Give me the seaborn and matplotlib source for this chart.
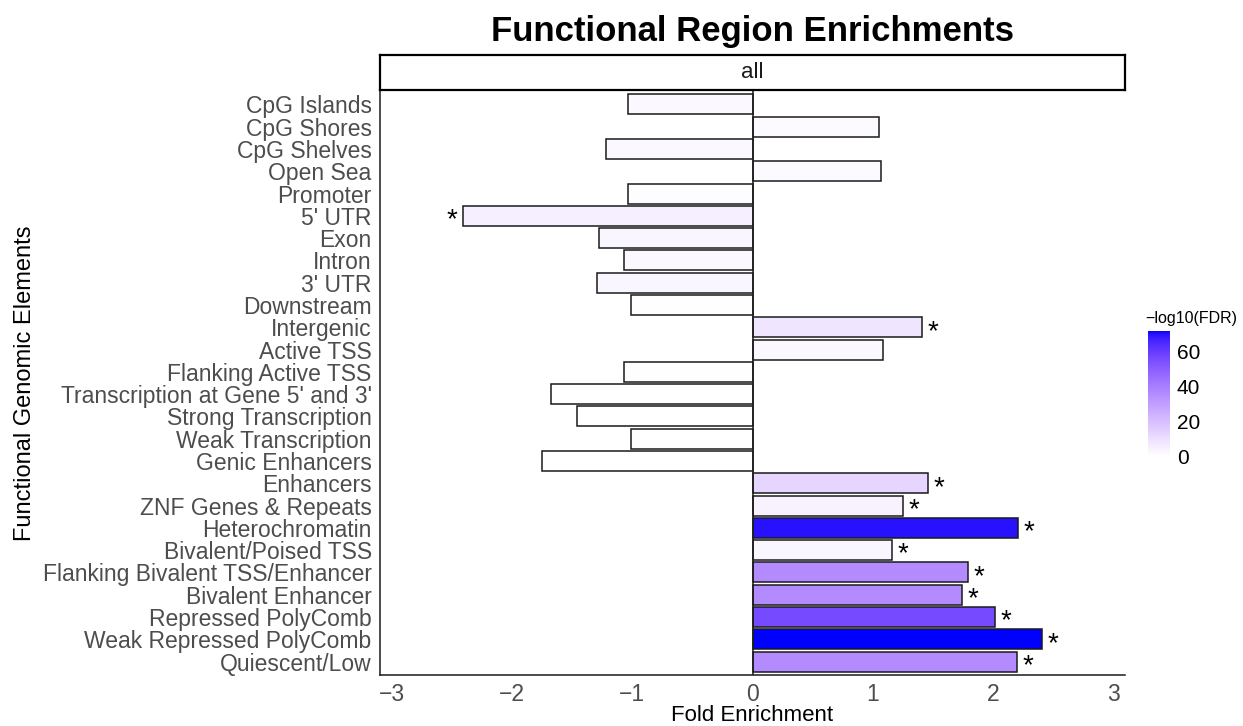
import numpy as np
import pandas as pd
import matplotlib
matplotlib.use('Agg')
import matplotlib.pyplot as plt
import seaborn as sns
from matplotlib.colors import ListedColormap, Normalize
from matplotlib.cm import ScalarMappable

# Data
elements = [
    "CpG Islands", "CpG Shores", "CpG Shelves", "Open Sea", "Promoter",
    "5' UTR", "Exon", "Intron", "3' UTR", "Downstream", "Intergenic",
    "Active TSS", "Flanking Active TSS", "Transcription at Gene 5' and 3'",
    "Strong Transcription", "Weak Transcription", "Genic Enhancers",
    "Enhancers", "ZNF Genes & Repeats", "Heterochromatin",
    "Bivalent/Poised TSS", "Flanking Bivalent TSS/Enhancer",
    "Bivalent Enhancer", "Repressed PolyComb", "Weak Repressed PolyComb",
    "Quiescent/Low",
]
fold_enrichment = [-1.04, 1.05, -1.22, 1.07, -1.04, -2.41, -1.28, -1.07, -1.29,
                   -1.01, 1.41, 1.09, -1.07, -1.68, -1.46, -1.01, -1.75,
                   1.46, 1.25, 2.21, 1.16, 1.79, 1.74, 2.02, 2.41, 2.20]
neg_log10_fdr = [2, 1.5, 2, 1.5, 1, 5, 3, 2, 3, 0.5, 8, 2, 0.3, 0.2, 0.2, 0.2,
                 0.2, 13, 4, 70, 3, 36, 36, 56, 72, 36]
significant = [False, False, False, False, False, True, False, False, False,
               False, True, False, False, False, False, False, False,
               True, True, True, True, True, True, True, True, True]


# white -> blue gradient interpolated in CIELAB (like ggplot's scale_fill_gradient)
def srgb_to_lab(rgb):
    rgb = np.asarray(rgb, float)
    lin = np.where(rgb <= 0.04045, rgb / 12.92, ((rgb + 0.055) / 1.055) ** 2.4)
    m = np.array([[0.4124, 0.3576, 0.1805],
                  [0.2126, 0.7152, 0.0722],
                  [0.0193, 0.1192, 0.9505]])
    xyz = m @ lin / np.array([0.95047, 1.0, 1.08883])
    f = np.where(xyz > 0.008856, np.cbrt(xyz), 7.787 * xyz + 16 / 116)
    return np.array([116 * f[1] - 16, 500 * (f[0] - f[1]), 200 * (f[1] - f[2])])


def lab_to_srgb(lab):
    L, a, b = lab
    fy = (L + 16) / 116
    fx = fy + a / 500
    fz = fy - b / 200
    f = np.array([fx, fy, fz])
    xyz = np.where(f ** 3 > 0.008856, f ** 3, (f - 16 / 116) / 7.787)
    xyz = xyz * np.array([0.95047, 1.0, 1.08883])
    minv = np.array([[3.2406, -1.5372, -0.4986],
                     [-0.9689, 1.8758, 0.0415],
                     [0.0557, -0.2040, 1.0570]])
    lin = minv @ xyz
    lin = np.clip(lin, 0, 1)
    rgb = np.where(lin <= 0.0031308, 12.92 * lin, 1.055 * lin ** (1 / 2.4) - 0.055)
    return np.clip(rgb, 0, 1)


lab_lo = srgb_to_lab([1, 1, 1])
lab_hi = srgb_to_lab([0, 0, 1])
ramp = [lab_to_srgb(lab_lo + t * (lab_hi - lab_lo)) for t in np.linspace(0, 1, 256)]
cmap = ListedColormap(ramp)
norm = Normalize(vmin=0, vmax=72)

df = pd.DataFrame({"element": elements, "fold": fold_enrichment,
                   "fdr": neg_log10_fdr, "sig": significant})
bar_colors = [cmap(norm(v)) for v in df["fdr"]]

sns.set_style("white")
plt.rcParams['font.family'] = ['Liberation Sans', 'DejaVu Sans']
plt.rcParams['text.color'] = 'black'

fig = plt.figure(figsize=(12.43, 7.26), dpi=100)
ax = fig.add_axes([380 / 1243, 1 - 675 / 726, 745 / 1243, 584 / 726])

sns.barplot(data=df, x="fold", y="element", hue="element", palette=bar_colors,
            legend=False, orient="h", width=0.9, saturation=1,
            edgecolor="#1a1a1a", linewidth=1.1, ax=ax)
ax.axvline(0, color="#1a1a1a", lw=1.1, zorder=3)

# asterisks for significant regions
for i, row in df.iterrows():
    if row["sig"]:
        off = 0.09 if row["fold"] > 0 else -0.09
        ax.text(row["fold"] + off, i + 0.2, "*", ha="center", va="center",
                fontsize=20, color="black")

ax.set_xlim(-3.1, 3.1)
ax.set_ylim(25.6, -0.6)
ax.set_xticks([-3, -2, -1, 0, 1, 2, 3])
ax.tick_params(axis="both", colors="#333333", labelcolor="#4d4d4d",
               length=4, width=0.9)
ax.tick_params(axis="y", labelsize=16.5, pad=2)
ax.tick_params(axis="x", labelsize=16.5, pad=2)
for side in ["top", "right"]:
    ax.spines[side].set_visible(False)
for side in ["left", "bottom"]:
    ax.spines[side].set_color("#1a1a1a")
    ax.spines[side].set_linewidth(1.1)
ax.set_xlabel("Fold Enrichment", fontsize=16, color="black", labelpad=-1)
ax.set_ylabel("Functional Genomic Elements", fontsize=17, color="black")
ax.yaxis.set_label_coords(-0.462, 0.5)

# facet strip
strip = fig.add_axes([380 / 1243, 1 - 90 / 726, 745 / 1243, 35 / 726])
strip.set_xticks([])
strip.set_yticks([])
for s in strip.spines.values():
    s.set_linewidth(1.6)
    s.set_color("black")
strip.text(0.5, 0.5, "all", ha="center", va="center", fontsize=16,
           color="#1a1a1a", transform=strip.transAxes)

fig.text(752 / 1243, 1 - 31 / 726, "Functional Region Enrichments",
         ha="center", va="center", fontsize=25, fontweight="bold", color="black")

# colorbar legend
cax = fig.add_axes([1148 / 1243, 1 - 456 / 726, 22 / 1243, 125 / 726])
cb = fig.colorbar(ScalarMappable(norm=norm, cmap=cmap), cax=cax)
cb.outline.set_visible(False)
cb.set_ticks([0, 20, 40, 60])
cax.tick_params(which="both", direction="in", color="white", length=4,
                left=True, right=True, labelsize=15, labelcolor="black", pad=5)
fig.text(1145 / 1243, 1 - 318 / 726, "\u2212log10(FDR)", ha="left", va="center",
         fontsize=11.5, color="black")

fig.savefig("out.png", dpi=100)
